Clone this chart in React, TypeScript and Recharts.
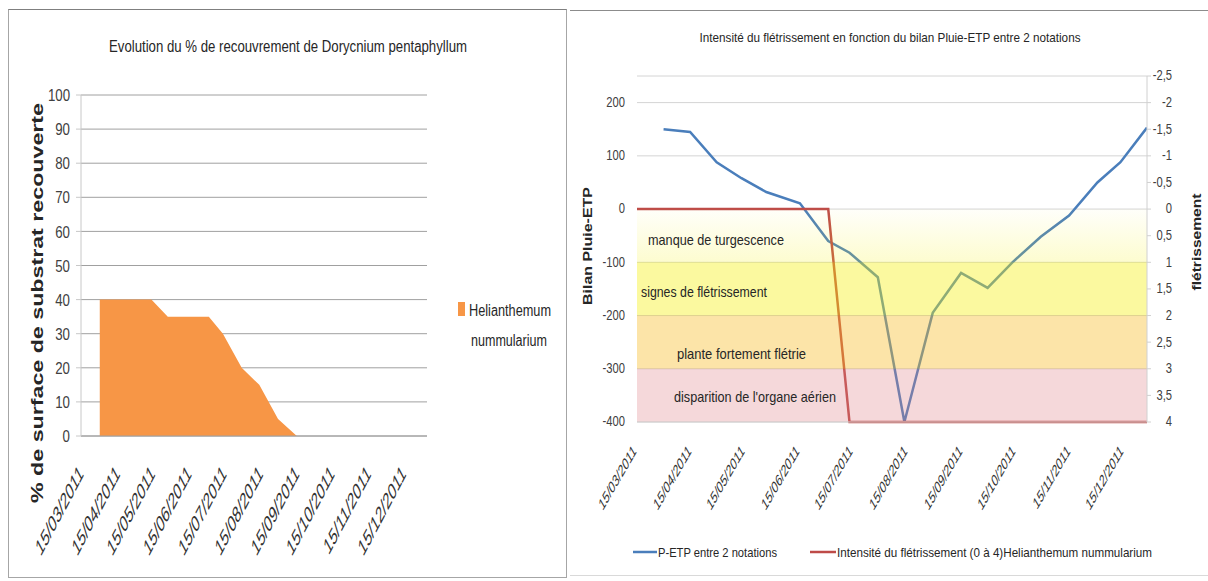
import React from 'react';
import { Area, CartesianGrid, ComposedChart, Line, ReferenceArea, XAxis, YAxis } from 'recharts';

const FONT = "'Liberation Sans', Arial, sans-serif";
const INK = '#333333';

// left chart: % de recouvrement
const coverageDates = ['30/03/2011', '14/04/2011', '29/04/2011', '13/05/2011', '27/05/2011', '15/06/2011', '01/07/2011', '13/07/2011', '29/07/2011', '13/08/2011', '29/08/2011', '14/09/2011'];
const coverageHelianthemum = [40, 40, 40, 40, 35, 35, 35, 30, 20, 15, 5, 0];
const coverageRange = ['14/03/2011', '03/01/2012'];
const coverageYTicks = [0, 10, 20, 30, 40, 50, 60, 70, 80, 90, 100];

// right chart: bilan Pluie-ETP / flétrissement
const monthTicks = ['15/03/2011', '15/04/2011', '15/05/2011', '15/06/2011', '15/07/2011', '15/08/2011', '15/09/2011', '15/10/2011', '15/11/2011', '15/12/2011'];
const notationDates = ['30/03/2011', '14/04/2011', '29/04/2011', '13/05/2011', '27/05/2011', '15/06/2011', '01/07/2011', '13/07/2011', '29/07/2011', '13/08/2011', '29/08/2011', '14/09/2011', '29/09/2011', '13/10/2011', '29/10/2011', '14/11/2011', '30/11/2011', '13/12/2011', '28/12/2011'];
const bilanPluieEtp = [150, 145, 88, 58, 32, 11, -60, -82, -128, -400, -195, -120, -148, -100, -52, -12, 50, 88, 153];
const fletrissementDates = ['15/03/2011', ...notationDates];
const fletrissementIntensite = [0, 0, 0, 0, 0, 0, 0, 0, 4, 4, 4, 4, 4, 4, 4, 4, 4, 4, 4, 4];
const bilanRange = ['15/03/2011', '28/12/2011'];
const bilanTicks = [-400, -300, -200, -100, 0, 100, 200];
const fletTicks = [-2.5, -2, -1.5, -1, -0.5, 0, 0.5, 1, 1.5, 2, 2.5, 3, 3.5, 4];
const bandBounds = [[0, -100], [-100, -200], [-200, -300], [-300, -400]];
const bandLabels = ['manque de turgescence', 'signes de flétrissement', 'plante fortement flétrie', "disparition de l'organe aérien"];
const bandStyles = [
  { fill: 'url(#turgGrad)', opacity: 1, dx: 11, dy: 4, len: 136 },
  { fill: '#f5f010', opacity: 0.4, dx: 4, dy: 3, len: 126 },
  { fill: '#f7bb26', opacity: 0.4, dx: 40, dy: 11, len: 129 },
  { fill: '#de7d84', opacity: 0.3, dx: 37, dy: 1, len: 162 },
];

const toTime = (s: string) => {
  const [d, m, y] = s.split('/').map(Number);
  return Date.UTC(y, m - 1, d);
};
const pad = (n: number) => String(n).padStart(2, '0');
const fmtDate = (t: number) => {
  const d = new Date(t);
  return `${pad(d.getUTCDate())}/${pad(d.getUTCMonth() + 1)}/${d.getUTCFullYear()}`;
};

const coverageRows = coverageDates.map((d, i) => ({ t: toTime(d), v: coverageHelianthemum[i] }));
const bilanRows = notationDates.map((d, i) => ({ t: toTime(d), v: bilanPluieEtp[i] }));
const fletRows = fletrissementDates.map((d, i) => ({ t: toTime(d), v: fletrissementIntensite[i] }));
const tickTimes = monthTicks.map(toTime);

const DateTick = ({ x, y, payload, sx, fs, ox, oy }: any) => (
  <g transform={`translate(${x + ox},${y + oy})`}>
    <text transform={`scale(${sx},1) rotate(-45)`} textAnchor="end" fontSize={fs} fill={INK} fontFamily={FONT}>
      {fmtDate(payload.value)}
    </text>
  </g>
);

const NumTick = ({ x, y, payload, sx, fs, ox = 0, fmt }: any) => (
  <g transform={`translate(${x + ox},${y})`}>
    <text transform={`scale(${sx},1)`} textAnchor="end" dominantBaseline="central" fontSize={fs} fill="#404040" fontFamily={FONT}>
      {fmt ? fmt(payload.value) : payload.value}
    </text>
  </g>
);

const BandLabel = ({ viewBox, text, dx, dy, len }: any) => {
  if (!viewBox) return null;
  return (
    <text x={viewBox.x + dx} y={viewBox.y + viewBox.height / 2 + dy} dominantBaseline="central" fontSize={15} fill="#262626" fontFamily={FONT} textLength={len} lengthAdjust="spacingAndGlyphs">
      {text}
    </text>
  );
};

const T = ({ x, y, len, size, bold, rotate, anchor = 'start', children }: any) => (
  <text
    x={rotate ? 0 : x}
    y={rotate ? 0 : y}
    transform={rotate ? `translate(${x},${y}) rotate(-90)` : undefined}
    textAnchor={anchor}
    dominantBaseline={rotate ? 'central' : undefined}
    fontSize={size}
    fontWeight={bold ? 700 : 400}
    fill="#262626"
    fontFamily={FONT}
    textLength={len}
    lengthAdjust="spacingAndGlyphs"
  >
    {children}
  </text>
);

export default function App() {
  return (
    <div style={{ position: 'absolute', left: 0, top: 0, width: 1208, height: 581, background: '#fff', overflow: 'hidden' }}>
      <div style={{ position: 'absolute', left: 8, top: 9, width: 557, height: 567, border: '1px solid #a6a6a6', borderTopColor: '#7f7f7f' }} />
      <div style={{ position: 'absolute', left: 570, top: 10, width: 640, height: 564, borderTop: '1px solid #8c8c8c', borderBottom: '1px solid #d9d9d9' }} />

      <div style={{ position: 'absolute', left: 0, top: 0 }}>
        <ComposedChart width={567} height={581} data={coverageRows} margin={{ top: 95, right: 140, bottom: 25, left: 0 }}>
          <CartesianGrid vertical={false} stroke="#a0a0a0" />
          <XAxis
            dataKey="t"
            type="number"
            domain={coverageRange.map(toTime)}
            allowDataOverflow
            ticks={tickTimes}
            interval={0}
            height={120}
            tickSize={0}
            tickMargin={0}
            axisLine={{ stroke: '#a0a0a0' }}
            tickLine={false}
            tick={<DateTick sx={0.53} fs={23.5} ox={2} oy={39} />}
          />
          <YAxis
            width={81}
            domain={[0, 100]}
            ticks={coverageYTicks}
            interval={0}
            tickSize={5}
            tickMargin={6}
            axisLine={{ stroke: '#c8c8c8' }}
            tickLine={{ stroke: '#c8c8c8' }}
            tick={<NumTick sx={0.78} fs={17} />}
          />
          <Area type="linear" dataKey="v" stroke="none" fill="#f79646" fillOpacity={1} isAnimationActive={false} activeDot={false} />
        </ComposedChart>
      </div>

      <div style={{ position: 'absolute', left: 570, top: 0 }}>
        <ComposedChart width={638} height={581} margin={{ top: 76, right: 0, bottom: 59, left: 0 }}>
          <defs>
            <linearGradient id="turgGrad" x1="0" y1="0" x2="0" y2="1">
              <stop offset="0%" stopColor="#f5f010" stopOpacity={0.02} />
              <stop offset="100%" stopColor="#f5f010" stopOpacity={0.2} />
            </linearGradient>
          </defs>
          <CartesianGrid vertical={false} stroke="#d4d4d4" yAxisId="left" />
          <XAxis
            dataKey="t"
            type="number"
            domain={bilanRange.map(toTime)}
            allowDataOverflow
            ticks={tickTimes}
            interval={0}
            height={100}
            tickSize={0}
            tickMargin={0}
            axisLine={{ stroke: '#d4d4d4' }}
            tickLine={false}
            tick={<DateTick sx={0.58} fs={17} ox={0} oy={30} />}
          />
          <YAxis
            yAxisId="left"
            width={67}
            domain={[-400, 250]}
            ticks={bilanTicks}
            interval={0}
            tickSize={0}
            tickMargin={12}
            axisLine={false}
            tickLine={false}
            tick={<NumTick sx={0.8} fs={14} />}
          />
          <YAxis
            yAxisId="right"
            orientation="right"
            width={61}
            domain={[-2.5, 4]}
            reversed
            ticks={fletTicks}
            interval={0}
            tickSize={4}
            tickMargin={0}
            axisLine={{ stroke: '#d0d0d0' }}
            tickLine={{ stroke: '#d0d0d0' }}
            tick={<NumTick sx={0.8} fs={14} ox={21} fmt={(v: number) => String(v).replace('.', ',')} />}
          />
          <Line data={bilanRows} yAxisId="left" type="linear" dataKey="v" stroke="#4a7ebb" strokeWidth={2.5} dot={false} activeDot={false} isAnimationActive={false} />
          <Line data={fletRows} yAxisId="right" type="linear" dataKey="v" stroke="#be4b48" strokeWidth={2.5} dot={false} activeDot={false} isAnimationActive={false} />
          {bandBounds.map(([a, b], i) => (
            <ReferenceArea
              key={i}
              yAxisId="left"
              y1={a}
              y2={b}
              fill={bandStyles[i].fill}
              fillOpacity={bandStyles[i].opacity}
              stroke="none"
              zIndex={450}
              label={<BandLabel text={bandLabels[i]} dx={bandStyles[i].dx} dy={bandStyles[i].dy} len={bandStyles[i].len} />}
            />
          ))}
        </ComposedChart>
      </div>

      <svg width={1208} height={581} style={{ position: 'absolute', left: 0, top: 0, pointerEvents: 'none' }}>
        <T x={288} y={52} len={358} size={16} anchor="middle">Evolution du % de recouvrement de Dorycnium pentaphyllum</T>
        <T x={37} y={303} len={400} size={16} bold rotate anchor="middle">% de surface de substrat recouverte</T>
        <rect x={458} y={302} width={7} height={14} fill="#f79646" />
        <T x={469} y={316} len={82} size={16}>Helianthemum</T>
        <T x={471} y={346} len={76} size={16}>nummularium</T>

        <T x={890} y={42} len={381} size={13} anchor="middle">Intensité du flétrissement en fonction du bilan Pluie-ETP entre 2 notations</T>
        <T x={588} y={246} len={118} size={12} bold rotate anchor="middle">Bilan Pluie-ETP</T>
        <T x={1197} y={242} len={97} size={12} bold rotate anchor="middle">flétrissement</T>
        <line x1={633} y1={552} x2={657} y2={552} stroke="#4a7ebb" strokeWidth={2.5} />
        <T x={658} y={557} len={119} size={13}>P-ETP entre 2 notations</T>
        <line x1={810} y1={552} x2={836} y2={552} stroke="#be4b48" strokeWidth={2.5} />
        <T x={837} y={557} len={315} size={13}>Intensité du flétrissement (0 à 4)Helianthemum nummularium</T>
      </svg>
    </div>
  );
}
